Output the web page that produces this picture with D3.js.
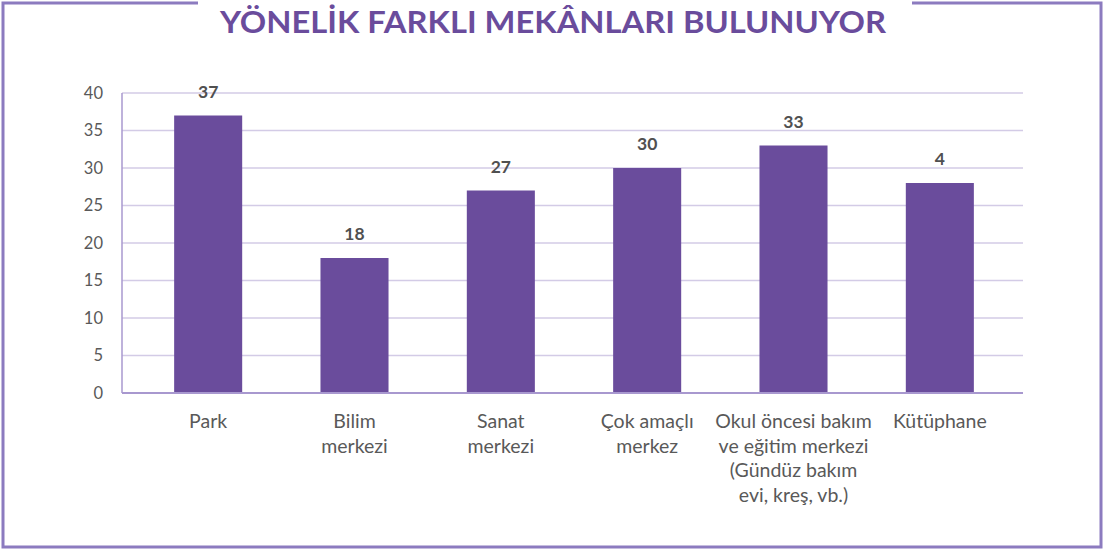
<!DOCTYPE html>
<html>
<head>
<meta charset="utf-8">
<script src="https://cdn.jsdelivr.net/npm/d3@7"></script>
<style>
  body { margin: 0; background: #fff; }
  text { font-family: Lato, "Open Sans", sans-serif; }
</style>
</head>
<body>
<div class="chart"></div>
<script>
var categories = [
    ["Park"],
    ["Bilim", "merkezi"],
    ["Sanat", "merkezi"],
    ["Çok amaçlı", "merkez"],
    ["Okul öncesi bakım", "ve eğitim merkezi", "(Gündüz bakım", "evi, kreş, vb.)"],
    ["Kütüphane"]
];
var values = [37, 18, 27, 30, 33, 28];
var valueLabels = ["37", "18", "27", "30", "33", "4"];
var yTicks = [0, 5, 10, 15, 20, 25, 30, 35, 40];
var title = "YÖNELİK FARKLI MEKÂNLARI BULUNUYOR";

var svgWidth = 1105;
var svgHeight = 552;

var plot = {left: 122, right: 1023, top: 93, bottom: 393};

var barColor = "#6a4c9c";
var frameColor = "#8c7bbf";
var gridColor = "#d3cbe6";
var axisColor = "#a898cf";
var textColor = "#595959";

var $svg = d3.select(".chart")
    .append("svg")
    .attr("width", svgWidth)
    .attr("height", svgHeight);

// frame with a gap for the title
var frame = d3.path();
frame.moveTo(198, 3);
frame.lineTo(3, 3);
frame.lineTo(3, 547);
frame.lineTo(1101, 547);
frame.lineTo(1101, 3);
frame.lineTo(912, 3);
$svg.append("path")
    .attr("d", frame.toString())
    .attr("fill", "none")
    .attr("stroke", frameColor)
    .attr("stroke-width", 3);

$svg.append("text")
    .attr("x", 553)
    .attr("y", 33)
    .attr("text-anchor", "middle")
    .attr("fill", barColor)
    .style("font-size", "31px")
    .style("font-weight", "bold")
    .attr("textLength", 666)
    .attr("lengthAdjust", "spacingAndGlyphs")
    .text(title);

var xScale = d3.scaleBand()
    .domain(d3.range(categories.length))
    .range([135, 1013])
    .paddingInner(0.535)
    .paddingOuter(0.2675);

var yScale = d3.scaleLinear()
    .domain([0, 40])
    .range([plot.bottom, plot.top]);

// gridlines
$svg.append("g")
    .selectAll("line")
    .data(yTicks.filter(d => d > 0))
    .enter()
    .append("line")
    .attr("x1", plot.left)
    .attr("x2", plot.right)
    .attr("y1", d => yScale(d))
    .attr("y2", d => yScale(d))
    .attr("stroke", gridColor)
    .attr("stroke-width", 1.5);

// y axis
var yAxis = d3.axisLeft(yScale)
    .tickValues(yTicks)
    .tickSize(0)
    .tickPadding(19);

var $yAxis = $svg.append("g")
    .attr("transform", `translate(${plot.left},0)`)
    .call(yAxis);
$yAxis.select(".domain").remove();
$yAxis.selectAll("text")
    .attr("fill", textColor)
    .style("font-size", "16.5px")
    .style("font-family", "Lato, sans-serif");

// bars
$svg.append("g")
    .selectAll("rect")
    .data(values)
    .enter()
    .append("rect")
    .attr("x", (d, i) => xScale(i))
    .attr("y", d => yScale(d))
    .attr("width", xScale.bandwidth())
    .attr("height", d => yScale(0) - yScale(d))
    .attr("fill", barColor);

// axis lines
$svg.append("line")
    .attr("x1", plot.left).attr("x2", plot.left)
    .attr("y1", plot.top).attr("y2", plot.bottom)
    .attr("stroke", axisColor).attr("stroke-width", 1.5);
$svg.append("line")
    .attr("x1", plot.left).attr("x2", plot.right)
    .attr("y1", plot.bottom).attr("y2", plot.bottom)
    .attr("stroke", axisColor).attr("stroke-width", 2);

// value labels
$svg.append("g")
    .selectAll("text")
    .data(values)
    .enter()
    .append("text")
    .attr("x", (d, i) => xScale(i) + xScale.bandwidth() / 2)
    .attr("y", d => yScale(d) - 18)
    .attr("text-anchor", "middle")
    .attr("fill", "#505050")
    .style("font-size", "17.5px")
    .style("font-weight", "bold")
    .text((d, i) => valueLabels[i]);

// category labels
var $cats = $svg.append("g")
    .selectAll("text")
    .data(categories)
    .enter()
    .append("text")
    .attr("x", (d, i) => xScale(i) + xScale.bandwidth() / 2)
    .attr("y", 428)
    .attr("text-anchor", "middle")
    .attr("fill", textColor)
    .style("font-size", "19.5px");

$cats.selectAll("tspan")
    .data(d => d)
    .enter()
    .append("tspan")
    .attr("x", function () { return d3.select(this.parentNode).attr("x"); })
    .attr("dy", (d, i) => i == 0 ? 0 : 24.5)
    .text(d => d);
</script>
</body>
</html>
